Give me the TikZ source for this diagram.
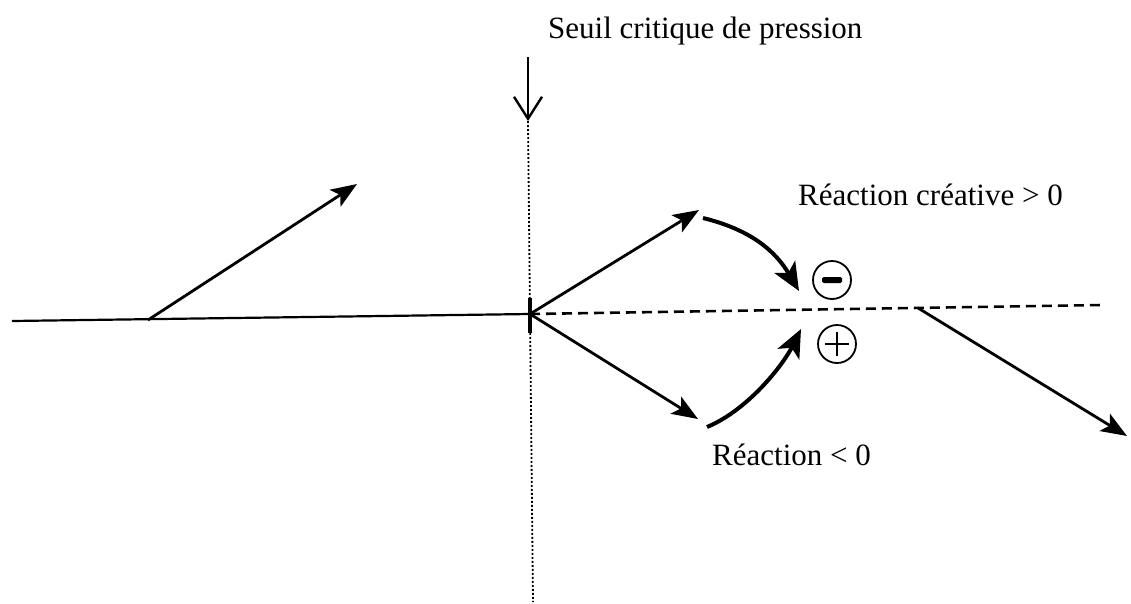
\documentclass[tikz,border=0pt]{standalone}
\usepackage{fontspec}
\setmainfont{Liberation Serif}
\usetikzlibrary{arrows.meta}
\tikzset{
  vec/.style={line width=2.8pt,-{Stealth[length=26pt,width=20pt,inset=6pt]}},
  bend arrow/.style={line width=4pt,-{Stealth[length=28pt,width=24pt,inset=7pt]}},
  lbl/.style={anchor=base west,inner sep=0pt,font=\fontsize{31}{37}\selectfont},
  sign/.style={circle,draw,line width=1.8pt,minimum size=38pt,inner sep=0pt},
}
\begin{document}
\begin{tikzpicture}[x=1pt,y=-1pt]
\useasboundingbox (0,0) rectangle (1131,603);
% key points
\coordinate (L) at (12,321);
\coordinate (O) at (530,314);
\coordinate (R) at (1102,305);
\coordinate (Vtop) at (528,57);
\coordinate (Vtip) at (528,121);
\coordinate (Vbot) at (533,602);
\coordinate (A0) at (148,320);
\coordinate (A1) at (357,184);
\coordinate (B1) at (699,210);
\coordinate (C1) at (698,419);
\coordinate (D0) at (918,308);
\coordinate (D1) at (1127,436);
\coordinate (M0) at (703,218);
\coordinate (M1) at (799,291);
\coordinate (P0) at (707,427);
\coordinate (P1) at (801,329);
% axes
\draw[line width=2.2pt] (L) -- (O);
\draw[line width=2.6pt,dash pattern=on 10pt off 6pt] (O) -- (R);
\draw[line width=1.8pt,dash pattern=on 2pt off 2pt] (Vtip) -- (Vbot);
\draw[line width=2.4pt,-{Straight Barb[length=22pt,width=28pt,line width=2.4pt]}] (Vtop) -- (Vtip);
\draw[line width=4.4pt] (530,298) -- (530,333);
% vectors
\draw[vec] (A0) -- (A1);
\draw[vec] (O) -- (B1);
\draw[vec] (O) -- (C1);
\draw[vec] (D0) -- (D1);
% bent arrows
\draw[bend arrow] (M0) .. controls (752,230) and (776,252) .. (M1);
\draw[bend arrow] (P0) .. controls (748,410) and (783,365) .. (P1);
% signs
\node[sign] (minus) at (832,280) {};
\fill[rounded corners=1.5pt] ([xshift=-10pt,yshift=-3pt]minus.center) rectangle ([xshift=10pt,yshift=3pt]minus.center);
\node[sign] (plus) at (837,344) {};
\draw[line width=1.6pt] ([xshift=-12pt]plus.center) -- ([xshift=12pt]plus.center);
\draw[line width=1.6pt] ([yshift=-12pt]plus.center) -- ([yshift=12pt]plus.center);
% labels
\node[lbl] (seuil) at (548,38) {Seuil critique de pression};
\node[lbl] (creative) at (798,205) {Réaction créative > 0};
\node[lbl] (neg) at (712,465) {Réaction < 0};
\end{tikzpicture}
\end{document}
